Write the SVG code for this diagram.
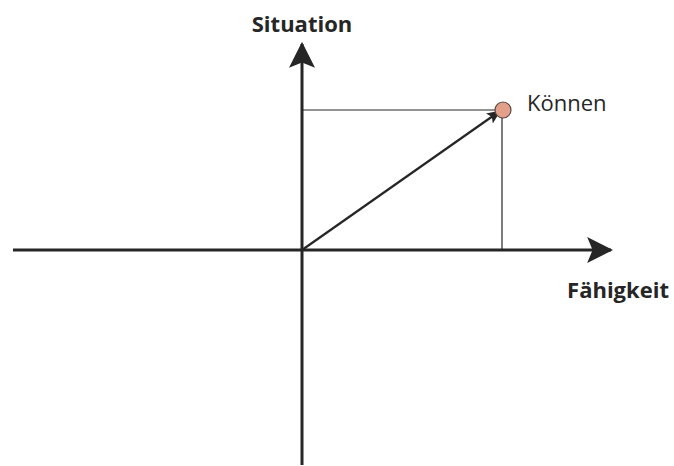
<svg xmlns="http://www.w3.org/2000/svg" width="674" height="466" viewBox="0 0 674 466">
<defs>
<marker id="big" markerUnits="userSpaceOnUse" markerWidth="26" markerHeight="26" viewBox="0 0 24 24" refX="22" refY="12" orient="auto">
<path d="M0,0 L24,12 L0,24 L5,12 Z" fill="#262626"/>
</marker>
<marker id="small" markerUnits="userSpaceOnUse" markerWidth="14" markerHeight="14" viewBox="0 0 14 14" refX="13" refY="7" orient="auto">
<path d="M0,1 L14,7 L0,13 L3,7 Z" fill="#262626"/>
</marker>
<style>
.axis{stroke:#262626;stroke-width:3;fill:none}
.thin{stroke:#262626;stroke-width:1.2;fill:none}
.vec{stroke:#262626;stroke-width:2.2;fill:none}
.lbl{font-family:"Open Sans","Liberation Sans",sans-serif;font-size:22px;fill:#262626}
.b{font-weight:bold}
</style>
</defs>
<rect width="674" height="466" fill="#ffffff"/>
<g id="connectors">
<line class="axis" x1="302" y1="465" x2="302" y2="44" marker-end="url(#big)"/>
<line class="axis" x1="13" y1="250" x2="611" y2="250" marker-end="url(#big)"/>
<line class="thin" x1="302" y1="110" x2="502" y2="110"/>
<line class="thin" x1="502" y1="110" x2="502" y2="250"/>
<line class="vec" x1="302" y1="250" x2="500" y2="111" marker-end="url(#small)"/>
</g>
<g id="node-koennen">
<circle cx="503" cy="110" r="8" fill="#e2a08a" stroke="#5a4a45" stroke-width="1.2"/>
<text class="lbl" x="527" y="111">Können</text>
</g>
<g id="label-situation">
<text class="lbl b" x="302" y="32" text-anchor="middle">Situation</text>
</g>
<g id="label-faehigkeit">
<text class="lbl b" x="618" y="298" text-anchor="middle">Fähigkeit</text>
</g>
</svg>
